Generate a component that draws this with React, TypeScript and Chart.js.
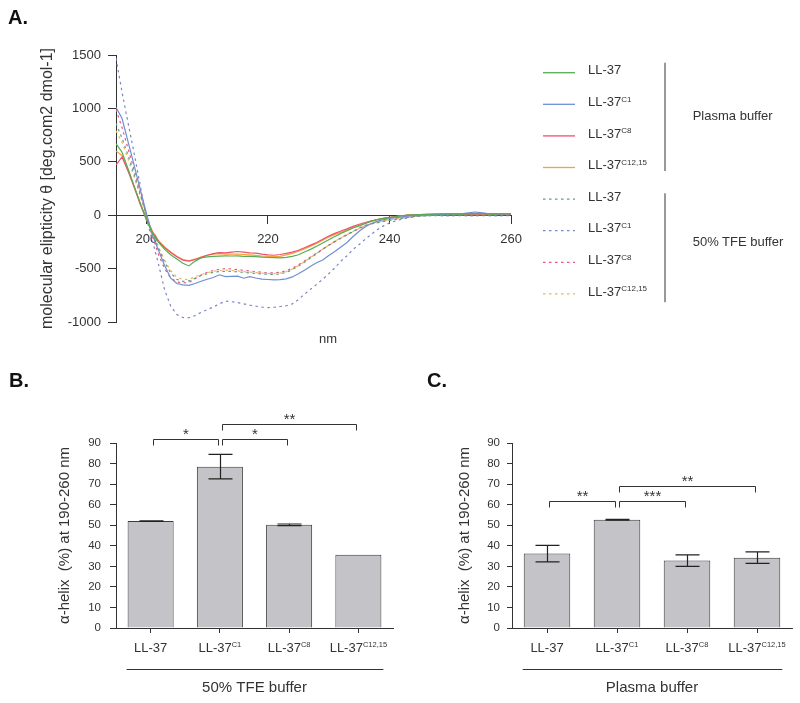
import React, { useEffect, useRef } from 'react';
import { Chart, registerables } from 'chart.js';

Chart.register(...registerables);

const FONT = "'Liberation Sans', Arial, Helvetica, sans-serif";
const INK = '#333333';

// ---------- Panel A: CD spectra ----------
const wavelengths = [
  195, 196, 197, 198, 199, 200, 201, 202, 203, 204,
  205, 206, 207, 208, 209, 210, 211, 212, 213, 214,
  215, 216, 217, 218, 219, 220, 221, 222, 223, 224,
  225, 226, 227, 228, 229, 230, 231, 232, 233, 234,
  235, 236, 237, 238, 239, 240, 241, 242, 243, 244,
  245, 246, 247, 248, 249, 250, 251, 252, 253, 254,
  255, 256, 257, 258, 259, 260,
];

const plasmaLL37 = [
  670, 590, 430, 270, 110, -40, -170, -255, -320, -370,
  -410, -450, -475, -430, -400, -390, -385, -383, -380, -382,
  -381, -385, -386, -388, -392, -396, -398, -400, -395, -385,
  -370, -345, -320, -290, -260, -230, -200, -170, -145, -120,
  -100, -78, -55, -40, -30, -22, -12, -5, 0, 3,
  5, 8, 10, 10, 12, 12, 10, 10, 12, 15,
  15, 12, 10, 12, 15, 15,
];
const plasmaC1 = [
  1010, 905, 685, 465, 240, 20, -190, -330, -470, -590,
  -640, -652, -657, -640, -618, -600, -583, -558, -575, -572,
  -570, -590, -575, -588, -598, -602, -605, -603, -596, -578,
  -548, -515, -478, -445, -420, -378, -340, -298, -255, -200,
  -150, -108, -78, -56, -42, -31, -22, -15, -8, -3,
  0, 3, 5, 8, 8, 10, 12, 15, 22, 30,
  25, 18, 15, 12, 12, 12,
];
const plasmaC8 = [
  470, 545, 410, 260, 100, -40, -160, -245, -305, -350,
  -390, -420, -430, -415, -395, -375, -360, -350, -352, -345,
  -340, -345, -352, -356, -365, -372, -375, -368, -358, -345,
  -328, -305, -280, -255, -225, -195, -170, -148, -128, -105,
  -85, -68, -52, -40, -30, -20, -12, -5, 0, 3,
  5, 8, 8, 10, 10, 12, 12, 10, 10, 12,
  12, 10, 12, 15, 12, 12,
];
const plasmaC1215 = [
  600, 560, 425, 270, 110, -35, -150, -238, -298, -345,
  -385, -415, -428, -412, -392, -375, -365, -360, -365, -365,
  -365, -368, -372, -376, -382, -386, -388, -385, -372, -358,
  -338, -315, -290, -265, -235, -205, -180, -160, -140, -115,
  -95, -75, -58, -42, -30, -20, -12, -5, 0, 3,
  5, 6, 8, 8, 10, 10, 10, 12, 12, 10,
  10, 12, 12, 10, 12, 12,
];
const tfeLL37 = [
  860, 720, 560, 380, 190, 0, -170, -310, -440, -540,
  -600, -620, -615, -590, -565, -548, -535, -528, -525, -527,
  -530, -535, -540, -545, -550, -553, -555, -550, -535, -510,
  -478, -440, -400, -360, -320, -280, -245, -210, -180, -150,
  -120, -95, -80, -70, -58, -48, -38, -28, -20, -13,
  -8, -5, -3, 0, 2, 3, 3, 2, 3, 4,
  4, 3, 4, 5, 5, 5,
];
const tfeC1 = [
  1470, 1150, 860, 575, 275, -30, -240, -460, -700, -850,
  -930, -958, -960, -940, -910, -885, -860, -830, -805, -810,
  -818, -830, -842, -852, -860, -865, -862, -855, -848, -830,
  -790, -740, -693, -648, -600, -548, -492, -430, -380, -320,
  -275, -225, -178, -135, -100, -72, -53, -38, -24, -15,
  -8, -6, -5, -5, -6, -6, -5, -5, -6, -6,
  -5, -5, -6, -6, -5, -5,
];
const tfeC8 = [
  990, 820, 620, 420, 210, 0, -200, -370, -500, -590,
  -625, -635, -630, -595, -560, -535, -518, -508, -500, -503,
  -510, -516, -522, -528, -535, -540, -540, -535, -520, -497,
  -465, -428, -392, -355, -318, -282, -248, -215, -185, -155,
  -125, -100, -82, -68, -56, -46, -36, -27, -19, -12,
  -7, -4, -2, 0, 0, 2, 2, 0, 2, 3,
  3, 2, 3, 4, 4, 4,
];
const tfeC1215 = [
  790, 680, 525, 355, 180, 0, -165, -300, -420, -520,
  -580, -602, -600, -578, -555, -538, -525, -518, -515, -518,
  -522, -528, -533, -538, -542, -546, -547, -542, -528, -504,
  -472, -435, -396, -357, -318, -280, -245, -212, -182, -152,
  -122, -97, -78, -64, -52, -42, -33, -24, -17, -11,
  -6, -3, -1, 1, 2, 2, 3, 2, 3, 3,
  4, 3, 3, 4, 4, 4,
];

const curveSeries = [plasmaLL37, plasmaC1, plasmaC8, plasmaC1215, tfeLL37, tfeC1, tfeC8, tfeC1215];
const curveColors = ['#55ad55', '#6f8fd3', '#f0506c', '#f2a33a', '#5f9f80', '#7b86c6', '#e8587a', '#f2b55a'];
const curveDashed = [false, false, false, false, true, true, true, true];

const xTicksA = [200, 220, 240, 260];
const yTicksA = [-1000, -500, 0, 500, 1000, 1500];
const yTitleA = 'molecular elipticity θ [deg.com2 dmol-1]';
const xTitleA = 'nm';

// ---------- Shared names ----------
const peptideNames = ['LL-37', 'LL-37', 'LL-37', 'LL-37'];
const peptideSups = ['', 'C1', 'C8', 'C12,15'];
const groupNames = ['Plasma buffer', '50% TFE buffer'];

// ---------- Panel B: 50% TFE ----------
const tfeHelix = [52.0, 78.5, 50.2, 35.6];
const tfeHelixErr = [0.15, 6.0, 0.4, 0];
const tfeSigFrom = [0, 1, 1];
const tfeSigTo = [1, 2, 3];
const tfeSigLevel = [92, 92, 99];
const tfeSigLabel = ['*', '*', '**'];

// ---------- Panel C: Plasma ----------
const plasmaHelix = [36.2, 52.7, 32.8, 34.2];
const plasmaHelixErr = [4.0, 0.2, 2.8, 2.8];
const plasmaSigFrom = [0, 1, 1];
const plasmaSigTo = [1, 2, 3];
const plasmaSigLevel = [62, 62, 69];
const plasmaSigLabel = ['**', '***', '**'];

const yTicksBar = [0, 10, 20, 30, 40, 50, 60, 70, 80, 90];
const yTitleBar = 'α-helix  (%) at 190-260 nm';

function buildA() {
  const datasets = curveSeries.map((vals, i) => ({
    data: wavelengths.map((x, k) => ({ x, y: vals[k] })),
    borderColor: curveColors[i],
    borderWidth: 1.2,
    borderDash: curveDashed[i] ? [2.5, 3.5] : [],
    pointRadius: 0,
    fill: false,
    tension: 0,
  }));
  return {
    type: 'line',
    data: { datasets },
    options: {
      responsive: false,
      animation: false,
      events: [],
      layout: { padding: { left: 0, top: 55, right: 13, bottom: 28 } },
      plugins: { legend: { display: false }, tooltip: { enabled: false } },
      scales: {
        x: {
          type: 'linear',
          min: 195,
          max: 260,
          position: { y: 0 },
          afterBuildTicks: (s: any) => { s.ticks = xTicksA.map((v) => ({ value: v })); },
          grid: { drawOnChartArea: false, drawTicks: true, tickLength: 8, color: INK, lineWidth: 1 },
          border: { display: true, color: INK, width: 1 },
          ticks: { padding: 8, color: INK, font: { family: FONT, size: 13 }, maxRotation: 0, autoSkip: false, callback: (v: any) => String(v) },
        },
        y: {
          type: 'linear',
          min: -1000,
          max: 1500,
          afterBuildTicks: (s: any) => { s.ticks = yTicksA.map((v) => ({ value: v })); },
          afterFit: (s: any) => { s.width = 116; },
          grid: { drawOnChartArea: false, drawTicks: true, tickLength: 8, color: INK, lineWidth: 1 },
          border: { display: true, color: INK, width: 1 },
          ticks: { padding: 7, color: INK, font: { family: FONT, size: 13 }, callback: (v: any) => String(v) },
          title: { display: true, text: yTitleA, color: INK, font: { family: FONT, size: 16 }, padding: { top: 38, bottom: 0 } },
        },
      },
    },
  };
}

function barExtras(errs: number[], sFrom: number[], sTo: number[], sLevel: number[], sLabel: string[]) {
  return {
    id: 'barExtras',
    afterDraw(chart: any) {
      const { ctx, chartArea } = chart;
      const xs = chart.scales.x;
      const ys = chart.scales.y;
      const meta = chart.getDatasetMeta(0);
      const vals = chart.data.datasets[0].data as number[];
      ctx.save();
      // error bars
      ctx.strokeStyle = '#222';
      ctx.lineWidth = 1.2;
      meta.data.forEach((bar: any, i: number) => {
        const e = errs[i];
        if (!e) return;
        const x = Math.round(bar.x) + 0.5;
        const yT = ys.getPixelForValue(vals[i] + e);
        const yB = ys.getPixelForValue(vals[i] - e);
        ctx.beginPath();
        ctx.moveTo(x, yT); ctx.lineTo(x, yB);
        ctx.moveTo(x - 12, yT); ctx.lineTo(x + 12, yT);
        ctx.moveTo(x - 12, yB); ctx.lineTo(x + 12, yB);
        ctx.stroke();
      });
      // significance brackets
      ctx.strokeStyle = INK;
      ctx.lineWidth = 1;
      ctx.fillStyle = INK;
      ctx.font = `15px ${FONT}`;
      ctx.textAlign = 'center';
      ctx.textBaseline = 'alphabetic';
      sFrom.forEach((f, k) => {
        const x1 = Math.round(xs.getPixelForValue(f) + 2) + 0.5;
        const x2 = Math.round(xs.getPixelForValue(sTo[k]) - 2) + 0.5;
        const y = Math.round(ys.getPixelForValue(sLevel[k])) + 0.5;
        ctx.beginPath();
        ctx.moveTo(x1, y + 6); ctx.lineTo(x1, y); ctx.lineTo(x2, y); ctx.lineTo(x2, y + 6);
        ctx.stroke();
        ctx.fillText(sLabel[k], (x1 + x2) / 2, y - 0.5);
      });
      // category labels with superscripts
      const baseY = chartArea.bottom + 23.5;
      peptideNames.forEach((name, i) => {
        const x = xs.getPixelForValue(i);
        ctx.font = `13px ${FONT}`;
        const w1 = ctx.measureText(name).width;
        ctx.font = `7.5px ${FONT}`;
        const w2 = ctx.measureText(peptideSups[i]).width;
        const start = x - (w1 + w2) / 2;
        ctx.textAlign = 'left';
        ctx.font = `13px ${FONT}`;
        ctx.fillText(name, start, baseY);
        ctx.font = `7.5px ${FONT}`;
        ctx.fillText(peptideSups[i], start + w1, baseY - 4.5);
      });
      // group line
      const first = meta.data[0];
      const last = meta.data[meta.data.length - 1];
      const gy = Math.round(chartArea.bottom + 41) + 0.5;
      ctx.beginPath();
      ctx.moveTo(first.x - first.width / 2 - 1, gy);
      ctx.lineTo(last.x + last.width / 2 + 2, gy);
      ctx.stroke();
      ctx.restore();
    },
  };
}

function buildBar(values: number[], errs: number[], sFrom: number[], sTo: number[], sLevel: number[], sLabel: string[], group: string, yW: number, rightPad: number, tl: number, tp: number) {
  return {
    type: 'bar',
    data: {
      labels: peptideNames,
      datasets: [{
        data: values,
        backgroundColor: '#c4c4c8',
        borderColor: '#3a3a3a',
        borderWidth: 1,
        barPercentage: 0.665,
        categoryPercentage: 1,
      }],
    },
    options: {
      responsive: false,
      animation: false,
      events: [],
      layout: { padding: { left: 0, top: 73, right: rightPad, bottom: 0 } },
      plugins: { legend: { display: false }, tooltip: { enabled: false } },
      scales: {
        x: {
          type: 'category',
          offset: true,
          afterFit: (s: any) => { s.height = 75; },
          grid: { offset: false, drawOnChartArea: false, drawTicks: true, tickLength: 5, color: INK },
          border: { display: true, color: INK, width: 1 },
          ticks: { display: false },
          title: { display: true, text: group, color: INK, font: { family: FONT, size: 15 }, padding: { top: 0, bottom: 6 } },
        },
        y: {
          type: 'linear',
          min: 0,
          max: 90,
          afterBuildTicks: (s: any) => { s.ticks = yTicksBar.map((v) => ({ value: v })); },
          afterFit: (s: any) => { s.width = yW; },
          grid: { drawOnChartArea: false, drawTicks: true, tickLength: tl, color: INK },
          border: { display: true, color: INK, width: 1 },
          ticks: { padding: tp, color: INK, font: { family: FONT, size: 11.5 } },
          title: { display: true, text: yTitleBar, color: INK, font: { family: FONT, size: 15 }, padding: { top: 56, bottom: 0 } },
        },
      },
    },
    plugins: [barExtras(errs, sFrom, sTo, sLevel, sLabel)],
  };
}

const buildB = () => buildBar(tfeHelix, tfeHelixErr, tfeSigFrom, tfeSigTo, tfeSigLevel, tfeSigLabel, groupNames[1], 116, 7, 6, 9);
const buildC = () => buildBar(plasmaHelix, plasmaHelixErr, plasmaSigFrom, plasmaSigTo, plasmaSigLevel, plasmaSigLabel, groupNames[0], 112, 8, 5, 7);

function ChartCanvas({ left, top, width, height, build }: { left: number; top: number; width: number; height: number; build: () => any }) {
  const ref = useRef<HTMLCanvasElement>(null);
  useEffect(() => {
    const chart = new Chart(ref.current as HTMLCanvasElement, build());
    return () => chart.destroy();
  }, []);
  return (
    <canvas
      ref={ref}
      width={width}
      height={height}
      style={{ position: 'absolute', left, top, width, height, display: 'block' }}
    />
  );
}

export default function App() {
  const legendY0 = 72.7;
  const legendStep = 31.6;
  return (
    <div style={{ position: 'fixed', left: 0, top: 0, width: 800, height: 703, overflow: 'hidden', background: '#fff' }}>
      <ChartCanvas left={0} top={0} width={530} height={350} build={buildA} />
      <ChartCanvas left={0} top={370} width={400} height={333} build={buildB} />
      <ChartCanvas left={400} top={370} width={400} height={333} build={buildC} />
      <svg width={800} height={703} style={{ position: 'absolute', left: 0, top: 0, pointerEvents: 'none', fontFamily: FONT }}>
        <text x={8} y={24} fontSize={20} fontWeight="bold" fill="#111">A.</text>
        <text x={9} y={387} fontSize={20} fontWeight="bold" fill="#111">B.</text>
        <text x={427} y={387} fontSize={20} fontWeight="bold" fill="#111">C.</text>
        <text x={328} y={343} fontSize={13} fill={INK} textAnchor="middle">{xTitleA}</text>
        {curveSeries.map((_, i) => {
          const y = legendY0 + i * legendStep;
          return (
            <g key={i}>
              <line x1={543} y1={y} x2={575} y2={y} stroke={curveColors[i]} strokeWidth={1.3} strokeDasharray={curveDashed[i] ? '2.5 3.5' : undefined} />
              <text x={588} y={y + 1.7} fontSize={13} fill={INK}>
                {peptideNames[i % 4]}
                <tspan fontSize={8} dy={-4.5}>{peptideSups[i % 4]}</tspan>
              </text>
            </g>
          );
        })}
        <line x1={665} y1={62.7} x2={665} y2={171} stroke="#777" strokeWidth={1.5} />
        <line x1={665} y1={193.3} x2={665} y2={302.3} stroke="#777" strokeWidth={1.5} />
        <text x={692.7} y={119.7} fontSize={13} fill={INK}>{groupNames[0]}</text>
        <text x={692.7} y={245.7} fontSize={13} fill={INK}>{groupNames[1]}</text>
      </svg>
    </div>
  );
}
